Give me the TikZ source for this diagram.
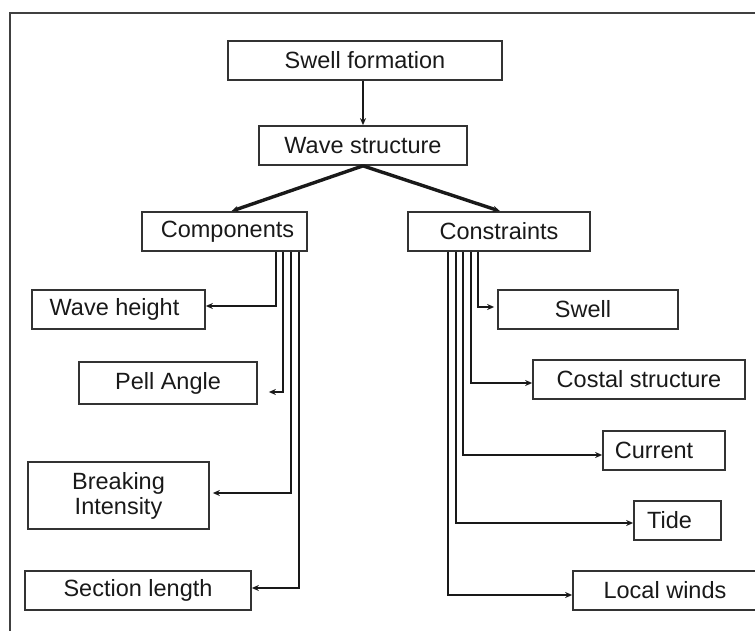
\documentclass[tikz,border=0pt]{standalone}
\usepackage{fontspec}
\setmainfont{Liberation Sans}
\usetikzlibrary{arrows.meta,calc}
\begin{document}
\begin{tikzpicture}[x=1pt,y=-1pt,
  box/.style={draw=black!80, line width=1.7pt, rectangle, inner sep=0pt, align=center,
    font=\fontsize{23.5}{25}\selectfont, text=black!90},
  conn/.style={line width=2.8pt, black!90, -{Stealth[length=7pt,width=6pt,open,line width=1.2pt]}},
  thickconn/.style={conn, line width=3.4pt}]
\useasboundingbox (0,0) rectangle (755,631);
\draw[line width=1.8pt, black!75] (10,640) -- (10,13) -- (765,13);

\node[box, minimum width=274pt, minimum height=39pt] (sf) at (365,60.5) {Swell formation};
\node[box, minimum width=208pt, minimum height=39pt] (ws) at (363,145.5) {Wave structure};
\node[box, minimum width=165pt, minimum height=39pt] (comp) at (224.5,231.5) {\hspace*{6pt}Components};
\node[box, minimum width=182pt, minimum height=39pt] (cons) at (499,231.5) {Constraints};

\node[box, minimum width=173pt, minimum height=39pt] (wh) at (118.5,309.5) {Wave height\hspace*{8pt}};
\node[box, minimum width=178pt, minimum height=42pt] (pa) at (168,383) {Pell Angle};
\node[box, minimum width=181pt, minimum height=67pt] (bi) at (118.5,495.5) {Breaking\\Intensity};
\node[box, minimum width=226pt, minimum height=39pt] (sl) at (138,590.5) {Section length};

\node[box, minimum width=180pt, minimum height=39pt] (sw) at (588,309.5) {Swell\hspace*{10pt}};
\node[box, minimum width=212pt, minimum height=39pt] (cs) at (639,379.5) {Costal structure};
\node[box, minimum width=122pt, minimum height=39pt] (cu) at (664,450.5) {Current\hspace*{20pt}};
\node[box, minimum width=87pt, minimum height=39pt] (ti) at (677.5,520.5) {Tide\hspace*{16pt}};
\node[box, minimum width=184pt, minimum height=39pt] (lw) at (665,590.5) {Local winds};

\draw[conn] (ws.north |- sf.south) -- (ws.north);
\draw[thickconn] (ws.south) -- ([xshift=7pt]comp.north);
\draw[thickconn] (ws.south) -- ([xshift=1pt]cons.north);

\draw[conn] ([xshift=51.5pt]comp.south) |- ([yshift=3.5pt]wh.east);
\draw[conn] ([xshift=58.5pt]comp.south) |- ([xshift=11pt,yshift=-9pt]pa.east);
\draw[conn] ([xshift=66.5pt]comp.south) |- ([xshift=3pt,yshift=2.5pt]bi.east);
\draw[conn] ([xshift=74.5pt]comp.south) |- ([yshift=2.5pt]sl.east);

\draw[conn] ([xshift=-21pt]cons.south) |- ([xshift=-3pt,yshift=2.5pt]sw.west);
\draw[conn] ([xshift=-28pt]cons.south) |- ([yshift=-3.5pt]cs.west);
\draw[conn] ([xshift=-36pt]cons.south) |- ([yshift=-4.5pt]cu.west);
\draw[conn] ([xshift=-43pt]cons.south) |- ([yshift=-2.5pt]ti.west);
\draw[conn] ([xshift=-51pt]cons.south) |- ([yshift=-4.5pt]lw.west);
\end{tikzpicture}
\end{document}
